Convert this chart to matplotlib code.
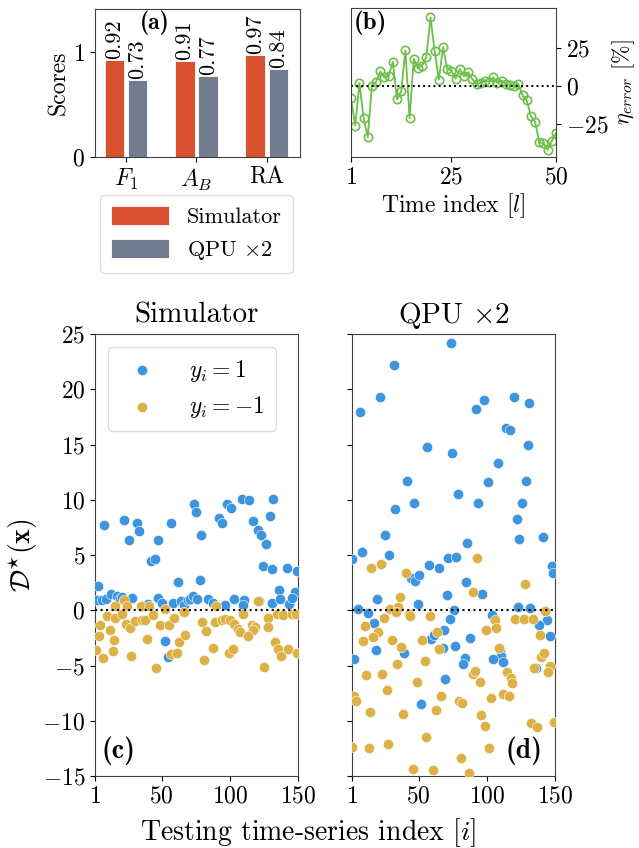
import numpy as np
import matplotlib
matplotlib.use("Agg")
import matplotlib.pyplot as plt

plt.rcParams['font.family'] = 'serif'
plt.rcParams['font.serif'] = ['cmr10']
plt.rcParams['mathtext.fontset'] = 'cm'
plt.rcParams['axes.formatter.use_mathtext'] = True
plt.rcParams['axes.unicode_minus'] = True

# ---- (a) scores
metrics = ['$F_1$', '$A_B$', 'RA']
score_sim = [0.92, 0.91, 0.97]
score_qpu = [0.73, 0.77, 0.84]

# ---- (b) relative error per time index
time_idx = list(range(1, 51))
eta_error = [-8, -26.4, 1.7, -21.2, -34, 0, 2.6, 9.3, 5.4, 6.1,
             15.6, -9.1, -3.9, 23.2, -21.6, 17.7, 11.3, 13.0, 18.8, 44.8,
             22.5, 3.9, 25.3, 11.0, 9.7, 4.5, 10.8, 6.0, 8.7, 4.3,
             1.0, 1.7, 3.2, 2.6, 5.4, 1.7, 3.2, 1.1, 0.4, 0.0,
             1.1, -6.5, -9.7, -20.1, -23.8, -37.4, -37.9, -42.2, -36.4, -31.4]

# ---- (c) simulator decision values
sim_pos = [(7.8, 7.75), (22, 8.2), (31.8, 7.9), (33, 7.15), (26, 6.4), (47, 6.4), (57, 7.9),
           (42, 4.46), (44.8, 4.6), (74, 9.6), (75, 8.9), (3, 2.17), (62, 2.6), (79, 6.85),
           (92, 8.35), (94.4, 7.9), (98, 9.6), (101, 9.3), (108.7, 10.1), (114, 10.0),
           (131.4, 10.1), (129.5, 8.5), (117, 8.05), (120.4, 7.3), (122.6, 6.85), (126.5, 6.0),
           (124.5, 4.0), (130.7, 3.7), (141.7, 3.8), (149, 3.55), (78, 2.7), (136, 1.8), (148, 1.65),
           (2.5, 0.9), (6, 0.95), (9, 1.0), (12.5, 1.5), (16.8, 1.3), (19, 1.0), (21, 1.2),
           (28.5, 1.1), (40, 0.6), (47, 1.1), (50, 0.7), (58, 0.7), (64, 0.8), (66, 0.5), (69, 0.9),
           (71, 1.0), (73, 1.3), (75.6, 1.05), (84, 1.0), (87.7, 0.7), (96.5, 0.5), (103, 1.05),
           (110, 0.95), (109.5, 0.5), (121.6, 0.8), (130.9, 0.65), (137, 1.0), (143.6, 0.6),
           (145.5, 1.1), (52, -2.8), (54.3, -4.2)]
sim_neg = [(22.5, 0.9), (24.5, 0.4), (16, 0.35), (34.5, 0.4), (40.5, 0.35), (52.5, 0.15),
           (9.8, -0.54), (15.9, -0.7), (20.8, -0.3), (4.9, -1.3), (11.8, -1.75), (24, -1.2),
           (27, -1.6), (30.6, -1.0), (35.5, -0.9), (38, -0.84), (43.5, -0.45), (49, -1.35),
           (55, -1.35), (59, -0.7), (66.6, -0.15), (4, -2.35), (15, -2.7), (39, -2.6),
           (1.5, -3.56), (7, -4.3), (14, -3.7), (27.7, -4.1), (46, -5.2), (62.6, -2.9),
           (67, -2.2), (56.8, -4.0), (61, -3.9), (90, 0.36), (120.9, 0.8), (109.4, -0.36),
           (134.4, -0.3), (139.2, -0.45), (145.4, -0.3), (148.3, -0.36), (128.2, -0.66),
           (79.8, -1.1), (82.2, -1.9), (89.1, -1.06), (94, -0.84), (96.4, -0.75), (100, -0.9),
           (103.3, -1.27), (106.2, -1.66), (107.4, -1.96), (116, -1.3), (118.4, -1.5),
           (117.2, -1.75), (113.5, -2.35), (128.2, -1.5), (133.1, -2.87), (135.5, -3.47),
           (137.5, -4.1), (142.4, -3.5), (149.5, -3.9), (87.4, -3.4), (99.4, -3.9),
           (102.5, -3.5), (81.2, -4.5), (125.3, -5.1)]

# ---- (d) QPU decision values
qpu_pos = [(73.9, 24.2), (31.6, 22.2), (21.3, 19.3), (7.1, 17.9), (91.8, 18.25), (97.7, 19.0),
           (119.9, 19.3), (130.9, 18.8), (113.8, 16.5), (117.2, 16.3), (130, 15.0), (56.3, 14.75),
           (74.7, 14.2), (108, 13.3), (41.4, 11.7), (100.8, 11.6), (128.9, 11.7), (78.8, 10.5),
           (46.5, 9.75), (93.7, 9.75), (125.8, 9.75), (32.6, 9.2), (122.1, 8.3), (25.5, 6.85),
           (123.8, 6.45), (141.2, 6.6), (85.6, 6.1), (8.3, 5.25), (28.4, 5.0), (1, 4.65),
           (71.5, 4.7), (77.6, 4.8), (57.5, 4.07), (64.6, 3.86), (44.1, 2.9), (47, 2.65),
           (50.2, 3.2), (84.5, 2.6), (96.6, 1.5), (19.3, 1.05), (70.5, 1.4), (49.4, 0.6),
           (5.4, 0.15), (12.7, -0.24), (75.9, 0), (122.8, 0.3), (131.9, 0.2), (103.8, -0.45),
           (17.1, -1.15), (72.7, -0.75), (144.4, -0.9), (138, -1.36), (68.5, -1.8), (59.2, -2.56),
           (61.2, -2.26), (87.8, -2.5), (146, -2.35), (18.4, -3.6), (67.8, -3.4), (76.4, -3.2),
           (39.4, -3.86), (2.5, -4.4), (109.4, -3.6), (110.6, -4.1), (111.8, -4.7), (104.7, -4.4),
           (83.7, -4.3), (82.4, -4.9), (136.3, -5.2), (69.5, -6.2), (51.4, -8.5), (147.8, 4.0),
           (148.5, 3.4)]
qpu_neg = [(92.8, 4.75), (15.2, 3.8), (22.5, 4.2), (40.4, 3.4), (127.7, 2.4), (89.8, 1.65),
           (36, 1.2), (29.1, 0.1), (34.8, 0.3), (33.5, -0.15), (42.8, -0.36), (43.4, -0.5),
           (58.5, -0.5), (24.3, -0.7), (10.3, -1.4), (20.1, -1.96), (16.4, -2.4), (9.1, -2.8),
           (30.1, -2.7), (52.4, -2.7), (63.6, -1.96), (64.9, -3.5), (37.2, -3.3), (105.8, -0.85),
           (106.7, -1.57), (99.6, -1.75), (120.4, -0.75), (127, -0.75), (134.1, -0.75),
           (142.8, -0.1), (139, -2.26), (108.7, -3.4), (140, -4.2), (142, -3.9), (34.3, -4.9),
           (54.4, -4.6), (146.5, -5.0), (144.9, -5.6), (134.6, -5.2), (11.5, -5.9), (23.3, -5.8),
           (89.6, -5.8), (91, -5.5), (94.9, -6.5), (115, -5.6), (117.9, -6.1), (118.7, -6.6),
           (48.5, -6.5), (26.4, -7.2), (2.5, -7.75), (4.2, -8.2), (66.6, -7.75), (79.3, -8.24),
           (82, -8.35), (102.8, -7.9), (112, -7.6), (116.2, -7.75), (14.2, -9.2), (38.4, -9.4),
           (62.7, -9.05), (95.9, -9.45), (98.6, -10.5), (132.6, -10.2), (137, -10.6), (149, -10.1),
           (1, -12.4), (13.2, -12.45), (27.4, -12.1), (55.5, -11.5), (101.7, -12.5), (80.7, -13.4),
           (45.5, -14.4), (60.7, -14.5), (86.6, -14.75)]

c_sim = '#D9502E'
c_qpu = '#717D8F'
c_green = '#6CBF48'
c_blue = '#3D95E0'
c_yel = '#DDB146'
spine_c = '#404040'
bold = 'cmb10'

fig = plt.figure(figsize=(6.39, 8.48), dpi=100)

# ---------------- (a)
ax_a = fig.add_axes([0.1487, 0.8149, 0.3208, 0.1745])
x = np.arange(len(metrics))
w = 0.28
b1 = ax_a.bar(x - 0.165, score_sim, w, color=c_sim, edgecolor='white', linewidth=0.6, label='Simulator')
b2 = ax_a.bar(x + 0.165, score_qpu, w, color=c_qpu, edgecolor='white', linewidth=0.6, label=r'QPU $\times 2$')
for rect, v in list(zip(b1, score_sim)) + list(zip(b2, score_qpu)):
    ax_a.text(rect.get_x() + rect.get_width() / 2, v + 0.01, f'{v:.2f}', rotation=90,
              ha='center', va='bottom', fontsize=16)
ax_a.set_xticks(x)
ax_a.set_xticklabels(metrics, fontsize=17)
ax_a.set_yticks([0, 1])
ax_a.tick_params(axis='y', labelsize=17)
ax_a.set_ylim(0, 1.41)
ax_a.set_xlim(-0.44, 2.47)
ax_a.set_ylabel('Scores', fontsize=17, labelpad=2)
ax_a.text(0.29, 0.91, '(a)', family=bold, transform=ax_a.transAxes, ha='center', va='center', fontsize=17)
ax_a.legend(loc='upper center', bbox_to_anchor=(0.495, -0.257), borderaxespad=0,
            fontsize=16, handlelength=2.6, handleheight=0.9, handletextpad=0.8,
            labelspacing=0.55, borderpad=0.5, framealpha=1, edgecolor='#dddddd', fancybox=True)

# ---------------- (b)
ax_b = fig.add_axes([0.5493, 0.8149, 0.3208, 0.1756])
ax_b.plot(time_idx, eta_error, '-o', color=c_green, lw=1.3, ms=6, mfc='none', mew=1.2)
ax_b.axhline(0, color='black', ls=':', lw=1.4)
ax_b.set_xlim(1, 50)
ax_b.set_ylim(-47, 51)
ax_b.set_xticks([1, 25, 50])
ax_b.set_yticks([-25, 0, 25])
ax_b.yaxis.tick_right()
ax_b.yaxis.set_label_position('right')
ax_b.tick_params(labelsize=17)
ax_b.set_xlabel(r'Time index [$l$]', fontsize=17, labelpad=2)
ax_b.set_ylabel(r'$\eta_{error}$ [%]', fontsize=16, labelpad=1)
ax_b.text(0.015, 0.985, '(b)', family=bold, transform=ax_b.transAxes, ha='left', va='top', fontsize=18)

# ---------------- (c) and (d)
ax_c = fig.add_axes([0.1487, 0.0849, 0.3177, 0.5212])
ax_d = fig.add_axes([0.5509, 0.0849, 0.3177, 0.5212], sharey=ax_c)

panels = [(ax_c, sim_pos, sim_neg, 'Simulator', '(c)'),
          (ax_d, qpu_pos, qpu_neg, r'QPU $\times 2$', '(d)')]
for ax, pos, neg, title, tag in panels:
    px, py = zip(*pos)
    nx, ny = zip(*neg)
    ax.scatter(px, py, s=55, color=c_blue, edgecolors='white', linewidths=0.4, label=r'$y_i = 1$', zorder=3)
    ax.scatter(nx, ny, s=55, color=c_yel, edgecolors='white', linewidths=0.4, label=r'$y_i = -1$', zorder=3)
    ax.axhline(0, color='black', ls=':', lw=1.5, zorder=4)
    ax.set_xlim(1, 150)
    ax.set_xticks([1, 50, 100, 150])
    ax.tick_params(labelsize=17)
    ax.set_title(title, fontsize=21, pad=8)
    if tag == '(c)':
        ax.text(0.03, 0.025, tag, family=bold, transform=ax.transAxes, ha='left', va='bottom', fontsize=20)
    else:
        ax.text(0.94, 0.025, tag, family=bold, transform=ax.transAxes, ha='right', va='bottom', fontsize=20)

ax_c.set_ylim(-15, 25)
ax_c.set_yticks(np.arange(-15, 26, 5))
plt.setp(ax_d.get_yticklabels(), visible=False)
ax_c.set_ylabel(r'$\mathcal{D}^{\star}(\mathbf{x})$', fontsize=20, labelpad=2)
ax_c.legend(loc='upper left', fontsize=17, handletextpad=1.0, labelspacing=0.45,
            borderpad=0.45, framealpha=1, edgecolor='#dddddd', scatterpoints=1,
            bbox_to_anchor=(0, 1), borderaxespad=0.55)

fig.text(0.482, 0.018, r'Testing time-series index [$i$]', ha='center', va='center', fontsize=20)

for ax in (ax_a, ax_b, ax_c, ax_d):
    for sp in ax.spines.values():
        sp.set_color(spine_c)

fig.savefig('out.png', dpi=100)
